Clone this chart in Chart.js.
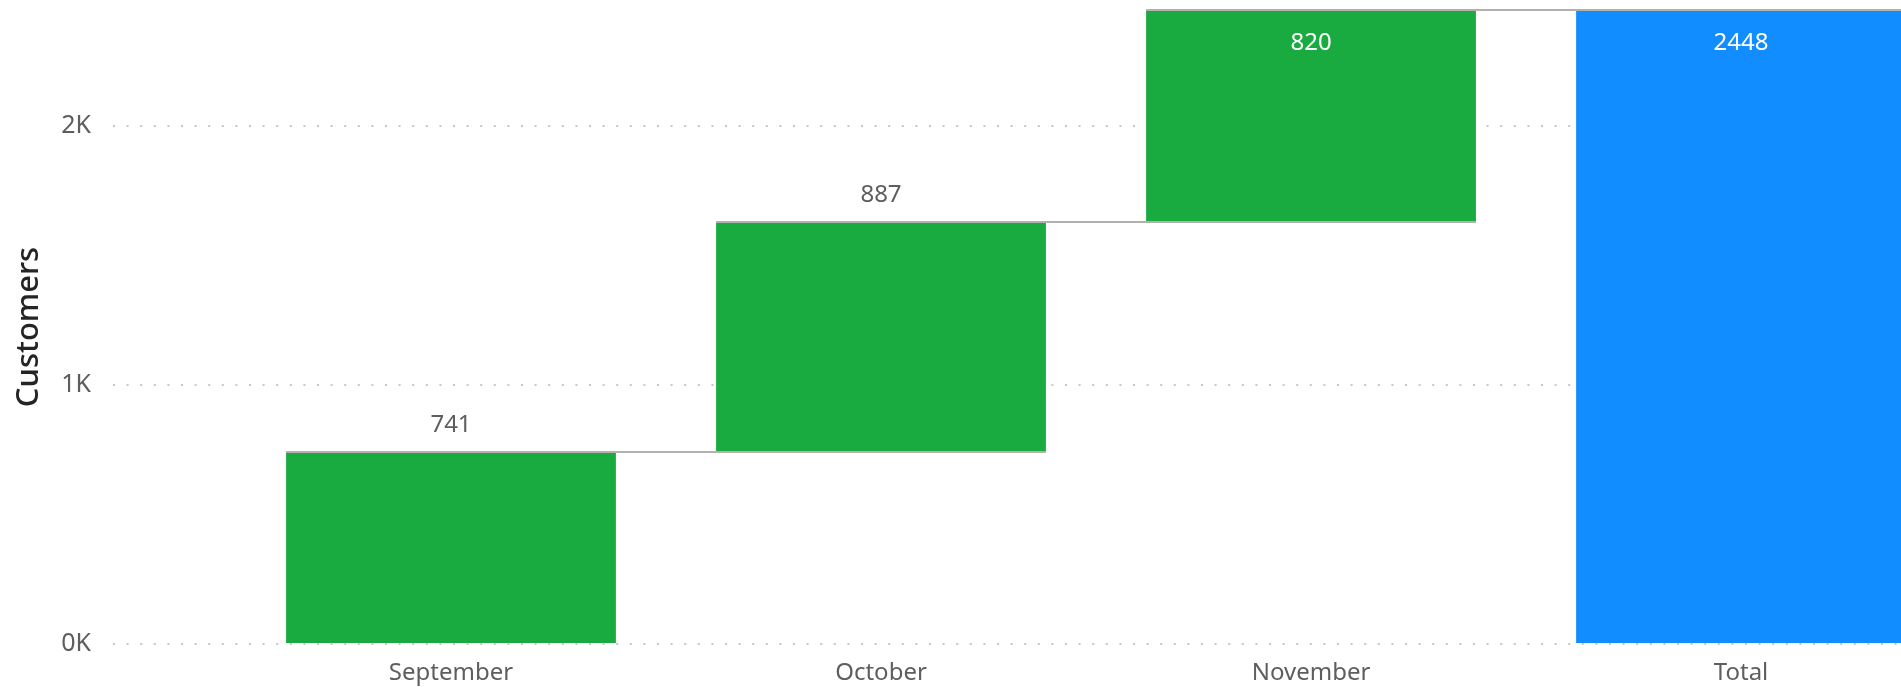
<!DOCTYPE html>
<html>
<head>
<meta charset="utf-8">
<script src="https://cdn.jsdelivr.net/npm/chart.js@4/dist/chart.umd.min.js"></script>
<style>
  html, body { margin: 0; padding: 0; background: #ffffff; overflow: hidden; }
  canvas { display: block; }
</style>
</head>
<body>
<canvas id="c" width="1901" height="687"></canvas>
<script>
// ---- data ----
const categories = ['September', 'October', 'November', 'Total'];
const deltas = [741, 887, 820];
const totalValue = 2448;
const yTickValues = [0, 1000, 2000];
const yTickLabels = ['0K', '1K', '2K'];
const axisTitle = 'Customers';

// build floating-bar data from the arrays
const barData = [];
let running = 0;
const ends = [];
deltas.forEach((d, i) => {
  barData.push({ x: i, y: [running, running + d] });
  running += d;
  ends.push(running);
});
barData.push({ x: deltas.length, y: [0, totalValue] });
ends.push(totalValue);
const labelValues = deltas.concat([totalValue]);

const GREEN = '#1AAB40';
const BLUE = '#118DFF';
const FONT = "'Noto Sans', 'Open Sans', sans-serif";

const connectorPlugin = {
  id: 'connectors',
  afterDatasetsDraw(chart) {
    const ctx = chart.ctx;
    const meta = chart.getDatasetMeta(0);
    const ys = chart.scales.y;
    ctx.save();
    ctx.strokeStyle = '#b3b0ad';
    ctx.lineWidth = 2;
    for (let i = 0; i < meta.data.length - 1; i++) {
      const a = meta.data[i], b = meta.data[i + 1];
      const y = Math.round(ys.getPixelForValue(ends[i]));
      ctx.beginPath();
      ctx.moveTo(a.x - a.width / 2, y);
      ctx.lineTo(b.x + b.width / 2, y);
      ctx.stroke();
    }
    // data labels
    ctx.font = '24px ' + FONT;
    ctx.textAlign = 'center';
    ctx.textBaseline = 'middle';
    meta.data.forEach((el, i) => {
      const top = Math.min(el.y, el.base);
      const txt = String(labelValues[i]);
      if (top - 50 > chart.chartArea.top) {
        ctx.fillStyle = '#605E5C';
        ctx.fillText(txt, el.x, top - 27);
      } else {
        ctx.fillStyle = '#ffffff';
        ctx.fillText(txt, el.x, top + 33);
      }
    });
    ctx.restore();
  }
};

new Chart(document.getElementById('c'), {
  type: 'bar',
  data: {
    datasets: [{
      data: barData,
      backgroundColor: barData.map((_, i) => i < deltas.length ? GREEN : BLUE),
      borderWidth: 0,
      categoryPercentage: 1,
      barPercentage: 0.767
    }]
  },
  options: {
    responsive: false,
    animation: false,
    devicePixelRatio: 1,
    layout: { padding: { top: 10, left: 0, right: 0, bottom: 0 } },
    plugins: { legend: { display: false }, tooltip: { enabled: false } },
    scales: {
      x: {
        type: 'linear',
        offset: false,
        min: -0.786,
        max: 3.372,
        grid: { display: false, drawTicks: false },
        border: { display: false },
        afterBuildTicks: (s) => { s.ticks = categories.map((_, i) => ({ value: i })); },
        afterFit: (s) => { s.height = 43; s.paddingLeft = 0; s.paddingRight = 0; },
        ticks: {
          autoSkip: false,
          maxRotation: 0,
          padding: 15,
          color: '#605E5C',
          font: { family: FONT, size: 24 },
          callback: (v) => categories[v] !== undefined ? categories[v] : ''
        }
      },
      y: {
        min: 0,
        max: totalValue,
        afterBuildTicks: (s) => { s.ticks = yTickValues.map(v => ({ value: v })); },
        afterFit: (s) => { s.width = 113; s.paddingTop = 0; s.paddingBottom = 0; },
        grid: {
          color: '#C8C6C4',
          lineWidth: 2,
          drawTicks: false
        },
        border: { display: false, dash: [2, 11.6] },
        ticks: {
          padding: 22,
          color: '#605E5C',
          font: { family: FONT, size: 25 },
          callback: (v) => { const k = yTickValues.indexOf(v); return k >= 0 ? yTickLabels[k] : ''; }
        },
        title: {
          display: true,
          text: axisTitle,
          color: '#252423',
          font: { family: FONT, size: 31, weight: '500' },
          padding: { top: 11, bottom: 0 }
        }
      }
    }
  },
  plugins: [connectorPlugin]
});
</script>
</body>
</html>
